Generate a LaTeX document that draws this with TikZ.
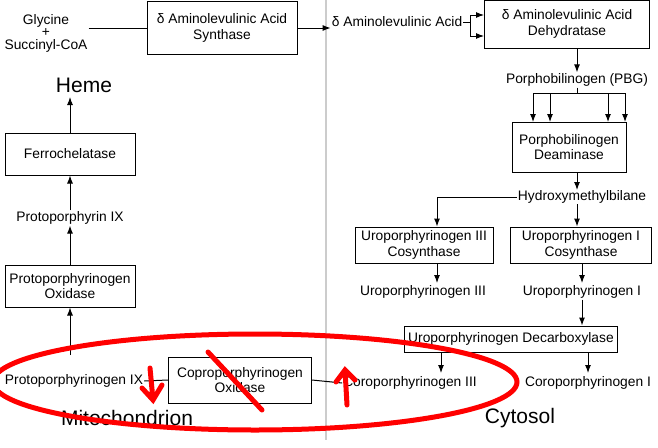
\documentclass[tikz,border=0pt]{standalone}
\usepackage{fontspec}
\setmainfont{Liberation Sans}
\usetikzlibrary{arrows.meta}
\begin{document}
\begin{tikzpicture}[x=1pt,y=-1pt,
  box/.style={draw,line width=1pt,align=center,font=\fontsize{13.8}{15.5}\selectfont,inner sep=1pt},
  txt/.style={align=center,font=\fontsize{13.8}{15.5}\selectfont,inner sep=1pt},
  big/.style={font=\fontsize{21}{23}\selectfont,inner sep=1pt},
  arr/.style={line width=1pt,-{Latex[length=8pt,width=6pt]}},
  ln/.style={line width=1pt},
  red/.style={draw=red,line width=5pt,line cap=round}]
\useasboundingbox (0,0) rectangle (658,447);
\draw[gray!40,line width=2pt] (326,0) -- (326,440);
% top
\node[txt] (gly) at (46,33) {Glycine\\[-3pt]+\\[-3pt]Succinyl-CoA};
\node[box,minimum width=150,minimum height=53] (alas) at (222,28) {δ Aminolevulinic Acid\\Synthase};
\node[txt] (ala) at (397,22) {δ Aminolevulinic Acid};
\node[box,minimum width=165,minimum height=48] (alad) at (567,24) {δ Aminolevulinic Acid\\Dehydratase};
\coordinate (br) at (470,22);
\draw[ln] (gly.east |- alas.west) -- (alas.west);
\draw[arr] (alas.east) -- (alas.east -| ala.west);
\draw[ln] (ala.east) -- (br);
\draw[ln] (470,15) -- (470,36);
\draw[arr] (470,15) -- (alad.west |- 0,15);
\draw[arr] (470,36) -- (alad.west |- 0,36);
\node[txt] (pbg) at (577,80) {Porphobilinogen (PBG)};
\draw[arr] (alad.south -| pbg) -- (pbg.north);
\node[box,minimum width=114,minimum height=50] (pbd) at (569,147) {Porphobilinogen\\Deaminase};
\draw[ln] (pbg.south) -- (577,93);
\draw[ln] (533,93) -- (625,93);
\foreach \x in {533,550,608,625} \draw[arr] (\x,93) -- (\x,122);
\node[txt] (hmb) at (582,197) {Hydroxymethylbilane};
\draw[arr] (pbd.south -| 577,0) -- (577,190);
\node[box,minimum width=138,minimum height=36] (u3s) at (424,245) {Uroporphyrinogen III\\Cosynthase};
\node[box,minimum width=141,minimum height=36] (u1s) at (581,245) {Uroporphyrinogen I\\Cosynthase};
\draw[arr] (hmb.west) -| (u3s.north -| 437,0);
\draw[arr] (577,204) -- (u1s.north -| 577,0);
\node[txt] (u3) at (423,292) {Uroporphyrinogen III};
\node[txt] (u1) at (582,292) {Uroporphyrinogen I};
\draw[arr] (u3s.south -| 437,0) -- (437,283);
\draw[arr] (u1s.south -| 582,0) -- (582,283);
\node[box,minimum width=213,minimum height=26] (dec) at (511,339) {Uroporphyrinogen Decarboxylase};
\draw[arr] (u1.south -| 582,0) -- (dec.north -| 582,0);
\node[txt] (c3) at (410,383) {Coroporphyrinogen III};
\node[txt] (c1) at (588,383) {Coroporphyrinogen I};
\draw[arr] (dec.south -| 441,0) -- (441,373);
\draw[arr] (dec.south -| 588,0) -- (588,373);
% left
\node[big] (heme) at (84,85) {Heme};
\node[box,minimum width=130,minimum height=42] (fc) at (70,154) {Ferrochelatase};
\node[txt] (pp) at (70,218) {Protoporphyrin IX};
\node[box,minimum width=130,minimum height=42] (ppo) at (70,286) {Protoporphyrinogen\\Oxidase};
\node[txt] (ppg) at (74,381) {Protoporphyrinogen IX};
\node[box,minimum width=143,minimum height=46] (cpo) at (240,380) {Coproporphyrinogen\\Oxidase};
\draw[arr] (fc.north -| 70,0) -- (70,97);
\draw[arr] (pp.north) -- (fc.south -| 70,0);
\draw[arr] (ppo.north -| 70,0) -- (pp.south);
\draw[arr] (70,355) -- (ppo.south -| 70,0);
\draw[ln] (ppg.east) -- (cpo.west);
\draw[ln] (cpo.east) -- (c3.west);
\node[big] (mito) at (127,418) {Mitochondrion};
\node[big] (cyt) at (520,418) {Cytosol};
% red annotations
\draw[red] (255,382) ellipse [x radius=262, y radius=48];
\draw[red] (208,352) -- (262,410);
\draw[red] (150,368) -- (153,400) (142,388) -- (153,400) -- (162,385);
\draw[red] (347,405) -- (345,370) (336,382) -- (345,370) -- (355,380);
\end{tikzpicture}
\end{document}
